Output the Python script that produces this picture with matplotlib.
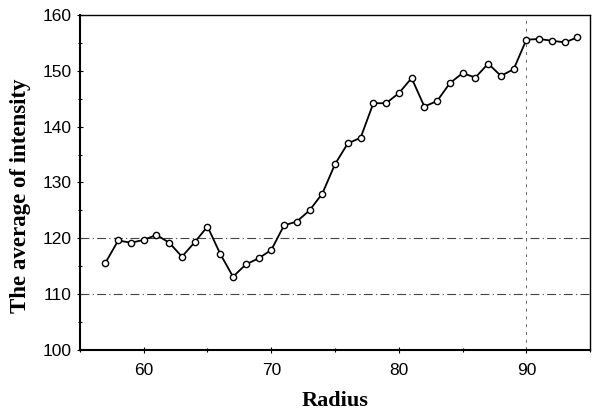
import matplotlib.pyplot as plt
from matplotlib.ticker import MultipleLocator

radius = list(range(57, 95))
intensity = [115.6, 119.6, 119.2, 119.7, 120.6, 119.2, 116.7, 119.3, 122.1, 117.2,
             113.1, 115.3, 116.4, 117.9, 122.3, 123.0, 125.0, 128.0, 133.3, 137.0,
             138.0, 144.2, 144.2, 146.0, 148.7, 143.6, 144.6, 147.8, 149.6, 148.8,
             151.3, 149.1, 150.3, 155.6, 155.7, 155.4, 155.1, 156.0]

# reference lines that survive in the scanned figure
ref_y = [110, 120]
ref_x = [90]

fig = plt.figure(figsize=(5.92, 4.18), dpi=100)
ax = fig.add_axes([0.135, 0.163, 0.862, 0.801])

for v in ref_y:
    ax.axhline(v, color="#444444", linestyle="-.", linewidth=0.8, dashes=(8, 3, 1, 3))
for v in ref_x:
    ax.axvline(v, color="#666666", linestyle="--", linewidth=0.7, dashes=(3, 5))

ax.plot(radius, intensity, "-o", color="black", lw=1.3, ms=4.5,
        markerfacecolor="white", markeredgecolor="black", markeredgewidth=1.0)

ax.set_xlim(55, 95)
ax.set_ylim(100, 160)
ax.xaxis.set_major_locator(MultipleLocator(10))
ax.xaxis.set_minor_locator(MultipleLocator(5))
ax.yaxis.set_major_locator(MultipleLocator(10))
ax.yaxis.set_minor_locator(MultipleLocator(5))
ax.tick_params(which="both", direction="inout", labelsize=12.5, width=0.8)
ax.tick_params(which="major", length=5)
ax.tick_params(which="minor", length=3)
ax.tick_params(axis="x", pad=7)
for lab in ax.get_xticklabels() + ax.get_yticklabels():
    lab.set_fontfamily("Liberation Sans")

for s in ax.spines.values():
    s.set_linewidth(1.0)
ax.spines["left"].set_linewidth(1.5)
ax.spines["bottom"].set_linewidth(1.5)

ax.set_xlabel("Radius", fontfamily="Liberation Serif", fontweight="bold", fontsize=16, labelpad=9)
ax.set_ylabel("The average of intensity", fontfamily="Liberation Serif", fontweight="bold",
              fontsize=16.5, labelpad=8)
ax.yaxis.set_label_coords(-0.095, 0.46)

plt.savefig("out.png")
